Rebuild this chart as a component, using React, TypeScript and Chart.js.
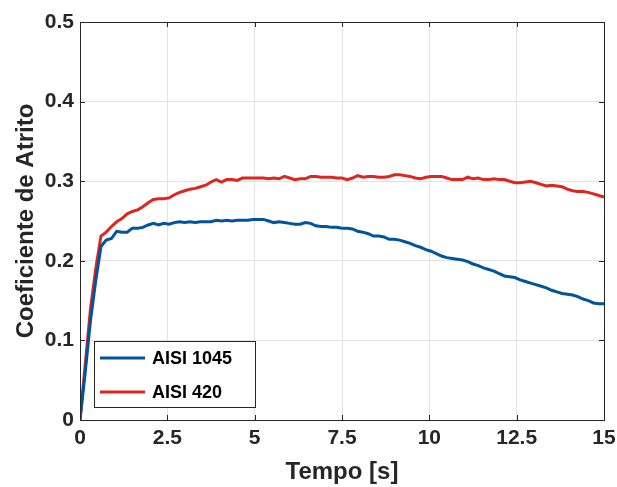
import React, { useEffect, useRef } from "react";
import { Chart, registerables } from "chart.js";

Chart.register(...registerables);

const timeS = [0,0.15,0.3,0.45,0.6,0.75,0.9,1.05,1.2,1.35,1.5,1.65,1.8,1.95,2.1,2.25,2.4,2.55,2.7,2.85,3.0,3.15,3.3,3.45,3.6,3.75,3.9,4.05,4.2,4.35,4.5,4.65,4.8,4.95,5.1,5.25,5.4,5.55,5.7,5.85,6.0,6.15,6.3,6.45,6.6,6.75,6.9,7.05,7.2,7.35,7.5,7.65,7.8,7.95,8.1,8.25,8.4,8.55,8.7,8.85,9.0,9.15,9.3,9.45,9.6,9.75,9.9,10.05,10.2,10.35,10.5,10.65,10.8,10.95,11.1,11.25,11.4,11.55,11.7,11.85,12.0,12.15,12.3,12.45,12.6,12.75,12.9,13.05,13.2,13.35,13.5,13.65,13.8,13.95,14.1,14.25,14.4,14.55,14.7,14.85,15.0];

const aisi1045 = [0,0.06,0.125,0.175,0.218,0.226,0.228,0.237,0.236,0.236,0.241,0.241,0.242,0.245,0.247,0.245,0.247,0.246,0.248,0.249,0.248,0.249,0.248,0.249,0.249,0.249,0.251,0.250,0.251,0.250,0.251,0.251,0.251,0.252,0.252,0.252,0.250,0.248,0.249,0.248,0.247,0.246,0.246,0.248,0.247,0.244,0.243,0.243,0.242,0.242,0.241,0.241,0.240,0.237,0.236,0.234,0.231,0.231,0.230,0.227,0.227,0.226,0.224,0.222,0.219,0.217,0.214,0.212,0.209,0.206,0.204,0.203,0.202,0.201,0.199,0.196,0.194,0.191,0.189,0.187,0.184,0.181,0.180,0.179,0.176,0.174,0.172,0.170,0.168,0.166,0.163,0.161,0.159,0.158,0.157,0.155,0.152,0.150,0.147,0.146,0.146];

const aisi420 = [0,0.07,0.14,0.19,0.231,0.236,0.243,0.249,0.253,0.259,0.262,0.264,0.268,0.273,0.277,0.278,0.278,0.279,0.283,0.286,0.288,0.290,0.291,0.293,0.295,0.299,0.302,0.299,0.302,0.302,0.301,0.304,0.304,0.304,0.304,0.304,0.303,0.304,0.303,0.306,0.304,0.302,0.303,0.303,0.306,0.306,0.305,0.305,0.305,0.304,0.304,0.302,0.304,0.307,0.305,0.306,0.306,0.305,0.305,0.306,0.308,0.308,0.307,0.306,0.304,0.303,0.305,0.306,0.306,0.306,0.304,0.302,0.302,0.302,0.305,0.303,0.304,0.302,0.302,0.303,0.302,0.302,0.300,0.298,0.298,0.299,0.300,0.298,0.296,0.294,0.295,0.294,0.293,0.290,0.288,0.287,0.287,0.286,0.284,0.282,0.280];

const seriesLabels = ["AISI 1045", "AISI 420"];
const seriesColors = ["#00539c", "#de261e"];
const xTickValues = [0, 2.5, 5, 7.5, 10, 12.5, 15];
const yTickValues = [0, 0.1, 0.2, 0.3, 0.4, 0.5];

const AXIS_COLOR = "#262626";
const FONT = "'Liberation Sans', Arial, Helvetica, sans-serif";

const boxPlugin = {
  id: "matlabBox",
  afterDraw(chart: any) {
    const { ctx, chartArea } = chart;
    const { left, right, top, bottom } = chartArea;
    const xs = chart.scales.x;
    const ys = chart.scales.y;
    ctx.save();
    ctx.strokeStyle = AXIS_COLOR;
    ctx.lineWidth = 1;
    ctx.strokeRect(Math.round(left) + 0.5, Math.round(top) + 0.5, Math.round(right - left), Math.round(bottom - top));
    const tl = 5;
    ctx.beginPath();
    for (const v of xTickValues) {
      const px = Math.round(xs.getPixelForValue(v)) + 0.5;
      ctx.moveTo(px, top);
      ctx.lineTo(px, top + tl);
      ctx.moveTo(px, bottom);
      ctx.lineTo(px, bottom - tl);
    }
    for (const v of yTickValues) {
      const py = Math.round(ys.getPixelForValue(v)) + 0.5;
      ctx.moveTo(left, py);
      ctx.lineTo(left + tl, py);
      ctx.moveTo(right, py);
      ctx.lineTo(right - tl, py);
    }
    ctx.stroke();

    // legend
    const lx = left + 14, ly = bottom - 79, lw = 161, lh = 66;
    ctx.fillStyle = "#ffffff";
    ctx.fillRect(lx, ly, lw, lh);
    ctx.strokeRect(Math.round(lx) + 0.5, Math.round(ly) + 0.5, lw, lh);
    ctx.font = `bold 18px ${FONT}`;
    ctx.textBaseline = "middle";
    ctx.textAlign = "left";
    chart.data.datasets.forEach((ds: any, i: number) => {
      const yy = ly + 17 + i * 34;
      ctx.strokeStyle = ds.borderColor;
      ctx.lineWidth = 3;
      ctx.beginPath();
      ctx.moveTo(lx + 6, yy);
      ctx.lineTo(lx + 51, yy);
      ctx.stroke();
      ctx.fillStyle = "#000000";
      ctx.fillText(ds.label, lx + 58, yy + 1);
    });
    ctx.restore();
  },
};

export default function App() {
  const ref = useRef<HTMLCanvasElement>(null);
  useEffect(() => {
    if (!ref.current) return;
    const chart = new Chart(ref.current, {
      type: "line",
      data: {
        datasets: [
          {
            label: seriesLabels[0],
            data: timeS.map((t, i) => ({ x: t, y: aisi1045[i] })),
            borderColor: seriesColors[0],
            backgroundColor: seriesColors[0],
            borderWidth: 3,
            pointRadius: 0,
            tension: 0,
          },
          {
            label: seriesLabels[1],
            data: timeS.map((t, i) => ({ x: t, y: aisi420[i] })),
            borderColor: seriesColors[1],
            backgroundColor: seriesColors[1],
            borderWidth: 3,
            pointRadius: 0,
            tension: 0,
          },
        ],
      },
      options: {
        responsive: false,
        animation: false,
        layout: { padding: { left: 0, right: 13, top: 22, bottom: 0 } },
        plugins: { legend: { display: false }, tooltip: { enabled: false } },
        scales: {
          x: {
            type: "linear",
            min: 0,
            max: 15,
            afterBuildTicks: (s: any) => { s.ticks = xTickValues.map((v) => ({ value: v })); },
            afterFit: (s: any) => { s.height = 67; s.paddingLeft = 0; s.paddingRight = 0; },
            ticks: {
              color: AXIS_COLOR,
              font: { family: FONT, size: 21, weight: "bold" },
              padding: 6,
              maxRotation: 0,
              callback: (v: any) => String(v),
            },
            grid: { color: "#e3e3e3", drawTicks: false, lineWidth: 1 },
            border: { display: false },
            title: {
              display: true,
              text: "Tempo [s]",
              color: AXIS_COLOR,
              font: { family: FONT, size: 24, weight: "bold" },
              padding: { top: 0, bottom: 0 },
            },
          },
          y: {
            min: 0,
            max: 0.5,
            afterBuildTicks: (s: any) => { s.ticks = yTickValues.map((v) => ({ value: v })); },
            afterFit: (s: any) => { s.width = 80; s.paddingTop = 0; s.paddingBottom = 0; },
            ticks: {
              color: AXIS_COLOR,
              font: { family: FONT, size: 21, weight: "bold" },
              padding: 6,
              callback: (v: any) => String(Number(Number(v).toFixed(1))),
            },
            grid: { color: "#e3e3e3", drawTicks: false, lineWidth: 1 },
            border: { display: false },
            title: {
              display: true,
              text: "Coeficiente de Atrito",
              color: AXIS_COLOR,
              font: { family: FONT, size: 24, weight: "bold" },
              padding: { top: 12, bottom: 0 },
            },
          },
        },
      },
      plugins: [boxPlugin],
    } as any);
    return () => chart.destroy();
  }, []);
  return (
    <div style={{ position: "absolute", left: 0, top: 0, width: 617, height: 487, background: "#fff" }}>
      <canvas ref={ref} width={617} height={487} />
    </div>
  );
}
